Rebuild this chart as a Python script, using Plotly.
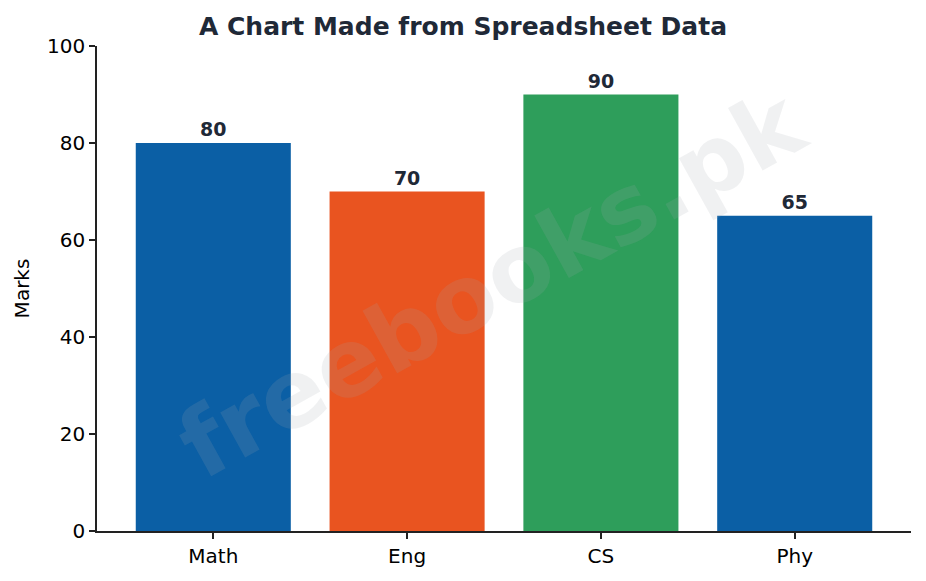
import plotly.graph_objects as go

subjects = ["Math", "Eng", "CS", "Phy"]
marks = [80, 70, 90, 65]
bar_colors = ["#0b5fa5", "#e95420", "#2e9e5b", "#0b5fa5"]
y_ticks = [0, 20, 40, 60, 80, 100]

FONT = "DejaVu Sans"
DARK = "#1f2937"

fig = go.Figure(go.Bar(
    x=subjects, y=marks,
    marker=dict(color=bar_colors, line=dict(width=0)),
    width=0.8,
    text=[str(v) for v in marks],
    textposition="outside",
    textfont=dict(family=FONT, size=19, color=DARK, weight="bold"),
    cliponaxis=False,
))

fig.add_annotation(
    text="<b>freebooks.pk</b>", xref="paper", yref="paper",
    x=0.485, y=0.51, showarrow=False, textangle=-29,
    font=dict(family=FONT, size=94, color="rgba(160,165,175,0.16)"),
)

fig.update_layout(
    width=926, height=581,
    margin=dict(l=97, r=15, t=46, b=50),
    paper_bgcolor="white", plot_bgcolor="white",
    showlegend=False,
    font=dict(family=FONT, size=20, color="black"),
    title=dict(text="<b>A Chart Made from Spreadsheet Data</b>", x=0.5, xanchor="center",
               y=0.955, yanchor="middle",
               font=dict(family=FONT, size=25, color=DARK)),
    xaxis=dict(range=[-0.6, 3.6], showline=True, linecolor="#222", linewidth=1.5,
               ticks="outside", ticklen=6, tickwidth=1.5, tickcolor="#222",
               showgrid=False, zeroline=False, tickfont=dict(size=20, color="black")),
    yaxis=dict(range=[0, 100], tickvals=y_ticks, showline=True, linecolor="#222", linewidth=1.5,
               ticks="outside", ticklen=6, tickwidth=1.5, tickcolor="#222",
               showgrid=False, zeroline=False, tickfont=dict(size=20, color="black"),
               title=dict(text="Marks", font=dict(size=20, color="black"), standoff=12)),
)

fig.write_html("out.html")
